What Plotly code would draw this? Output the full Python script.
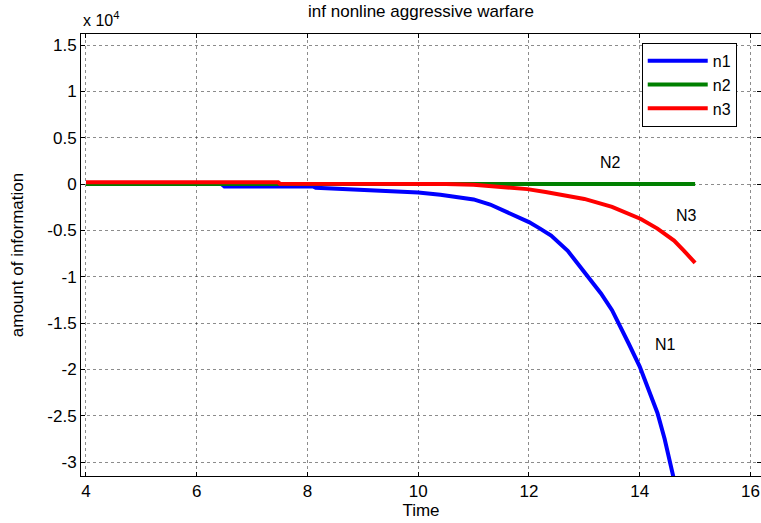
import plotly.graph_objects as go

# ---- data (values in real units; axis shows them scaled by 1e4) ----
time_n1 = [4.0, 6.45, 6.5, 8.1, 8.15, 8.8, 9.3, 10.0, 10.4, 11.0, 11.3, 11.6, 12.0,
           12.2, 12.4, 12.7, 12.93, 13.17, 13.3, 13.5, 13.66, 13.8, 14.0, 14.15,
           14.32, 14.45, 14.54, 14.6, 14.7]
n1 = [0, 0, -250, -250, -400, -550, -700, -900, -1150, -1650, -2200, -3000, -4100,
      -4800, -5560, -7200, -9000, -10750, -11800, -13600, -15400, -17200, -19700,
      -22000, -24700, -27500, -30000, -31500, -34000]

time_n2 = [4.0, 15.0]
n2 = [0, 0]

time_n3 = [4.0, 7.47, 7.5, 10.0, 10.5, 11.0, 11.97, 12.3, 12.69, 13.0, 13.5, 13.8,
           14.02, 14.32, 14.62, 14.8, 15.0]
n3 = [200, 200, 50, 50, 0, -80, -540, -850, -1260, -1600, -2450, -3150, -3760,
      -4800, -6100, -7200, -8500]

series_names = ["n1", "n2", "n3"]
series_colors = ["#0000FF", "#008000", "#FF0000"]

x_ticks = [4, 6, 8, 10, 12, 14, 16]
y_tick_vals = [15000, 10000, 5000, 0, -5000, -10000, -15000, -20000, -25000, -30000]
y_tick_text = ["1.5", "1", "0.5", "0", "-0.5", "-1", "-1.5", "-2", "-2.5", "-3"]

label_text = ["N1", "N2", "N3"]
label_x = [14.47, 13.47, 14.84]
label_y = [-17330, 2300, -3390]

x_range = [3.91, 16.19]
y_range = [-31500, 16200]

FONT = "Liberation Sans, Arial, Helvetica, sans-serif"

fig = go.Figure()
for xs, ys, name, col in zip([time_n1, time_n2, time_n3], [n1, n2, n3],
                             series_names, series_colors):
    fig.add_trace(go.Scatter(x=xs, y=ys, name=name, mode="lines",
                             line=dict(color=col, width=4)))

for t, lx, ly in zip(label_text, label_x, label_y):
    fig.add_annotation(x=lx, y=ly, text=t, showarrow=False,
                       font=dict(family=FONT, size=16, color="black"))

fig.add_annotation(xref="paper", yref="paper", x=0, y=1, xanchor="left",
                   yanchor="bottom", yshift=3, text="x 10<sup>4</sup>",
                   showarrow=False, font=dict(family=FONT, size=16, color="black"))

axis_common = dict(showline=True, linecolor="black", linewidth=1, mirror="allticks",
                   ticks="inside", ticklen=4, tickcolor="black", automargin=False,
                   showgrid=True, gridcolor="rgba(0,0,0,0.45)", griddash="dot",
                   gridwidth=1, zeroline=False,
                   tickfont=dict(family=FONT, size=17, color="black"))

fig.update_xaxes(range=x_range, tickvals=x_ticks,
                 title=dict(text="Time", standoff=2,
                            font=dict(family=FONT, size=17, color="black")),
                 **axis_common)
fig.update_yaxes(range=y_range, tickvals=y_tick_vals, ticktext=y_tick_text,
                 title=dict(text="amount of information", standoff=19,
                            font=dict(family=FONT, size=17, color="black")),
                 **axis_common)

fig.update_layout(
    width=761, height=523,
    margin=dict(l=81, r=0, t=34, b=47, autoexpand=False),
    paper_bgcolor="white", plot_bgcolor="white",
    title=dict(text="inf nonline aggressive warfare", x=0.5, xref="paper",
               y=1 - 11 / 523, yanchor="middle", yref="container",
               font=dict(family=FONT, size=17, color="black")),
    legend=dict(x=0.8246, y=0.98, xanchor="left", yanchor="top",
                bordercolor="black", borderwidth=1, bgcolor="white",
                font=dict(family=FONT, size=16, color="black"),
                itemwidth=60, tracegroupgap=0),
    showlegend=True,
)

fig.write_html("out.html", config={"displayModeBar": False},
               post_script="document.body.style.margin='0';"
                           "document.body.style.overflow='hidden';")
